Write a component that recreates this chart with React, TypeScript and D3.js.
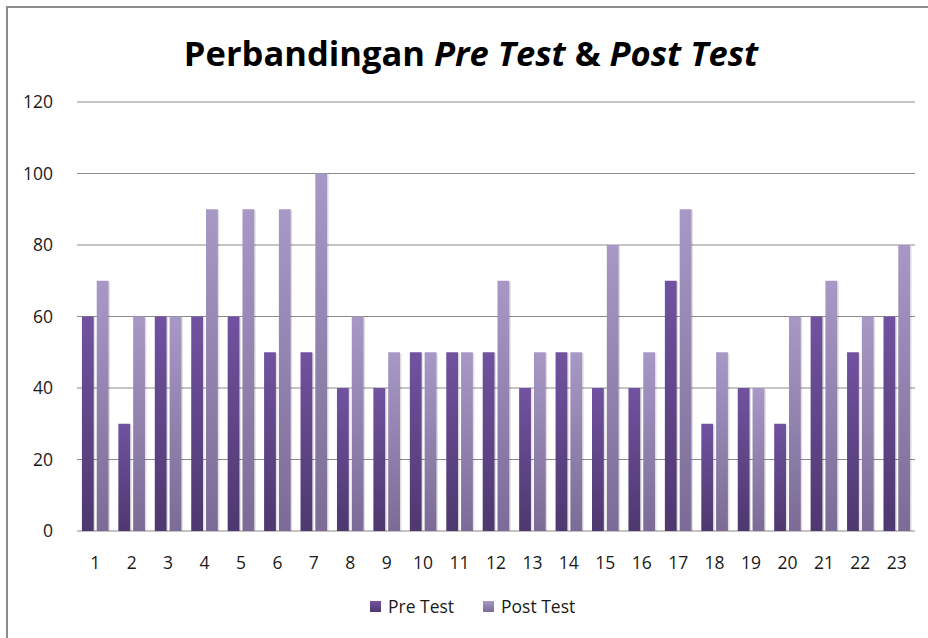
import React, { useEffect, useRef } from 'react';
import * as d3 from 'd3';

const categories = Array.from({ length: 23 }, (_, i) => String(i + 1));
const preTest = [60, 30, 60, 60, 60, 50, 50, 40, 40, 50, 50, 50, 40, 50, 40, 40, 70, 30, 40, 30, 60, 50, 60];
const postTest = [70, 60, 60, 90, 90, 90, 100, 60, 50, 50, 50, 70, 50, 50, 80, 50, 90, 50, 40, 60, 70, 60, 80];
const yTicks = [0, 20, 40, 60, 80, 100, 120];
const seriesNames = ['Pre Test', 'Post Test'];

const App = () => {
  const ref = useRef<SVGSVGElement>(null);

  useEffect(() => {
    const svg = d3.select(ref.current);
    svg.selectAll('*').remove();

    const font = '"Open Sans", Lato, sans-serif';
    const margin = { top: 102, right: 13, bottom: 107, left: 77 };
    const width = 928 - margin.left - margin.right;
    const height = 638 - margin.top - margin.bottom;

    const defs = svg.append('defs');
    const grads = [
      { id: 'gPre', top: '#7152a0', bottom: '#4e386f' },
      { id: 'gPost', top: '#a898c6', bottom: '#7b6b96' },
    ];
    grads.forEach(g => {
      const lg = defs.append('linearGradient').attr('id', g.id)
        .attr('x1', 0).attr('y1', 0).attr('x2', 0).attr('y2', 1);
      lg.append('stop').attr('offset', '0%').attr('stop-color', g.top);
      lg.append('stop').attr('offset', '100%').attr('stop-color', g.bottom);
    });

    // chart frame (only left and top edges fall inside the view)
    svg.append('rect')
      .attr('x', 7).attr('y', 7).attr('width', 1100).attr('height', 800)
      .attr('fill', 'white').attr('stroke', '#8c8c8c').attr('stroke-width', 2);

    // title
    const title = svg.append('text')
      .attr('x', 471).attr('y', 66)
      .attr('text-anchor', 'middle')
      .attr('font-family', font).attr('font-weight', 'bold')
      .attr('font-size', 34.5).attr('fill', '#000');
    title.append('tspan').text('Perbandingan ');
    title.append('tspan').attr('font-style', 'italic').text('Pre Test');
    title.append('tspan').text(' & ');
    title.append('tspan').attr('font-style', 'italic').text('Post Test');

    const g = svg.append('g').attr('transform', `translate(${margin.left},${margin.top})`);

    const x = d3.scaleBand().domain(categories).range([0, width]).paddingInner(0).paddingOuter(0);
    const y = d3.scaleLinear().domain([0, 120]).range([height, 0]);

    // gridlines
    g.selectAll('line.grid').data(yTicks).join('line')
      .attr('class', 'grid')
      .attr('x1', 0).attr('x2', width)
      .attr('y1', d => y(d)).attr('y2', d => y(d))
      .attr('stroke', '#8a8a8a').attr('stroke-width', 1);

    const barW = 11.8;
    const gap = 3;
    const series = [preTest, postTest];
    series.forEach((vals, si) => {
      const grp = g.append('g');
      // soft shadow
      grp.selectAll('rect.sh').data(vals).join('rect')
        .attr('x', (d, i) => x(categories[i])! + x.bandwidth() / 2 - barW - gap / 2 + si * (barW + gap) + 1.5)
        .attr('y', d => y(d) + 1)
        .attr('width', barW)
        .attr('height', d => height - y(d) - 1)
        .attr('fill', '#000').attr('opacity', 0.12);
      grp.selectAll('rect.bar').data(vals).join('rect')
        .attr('x', (d, i) => x(categories[i])! + x.bandwidth() / 2 - barW - gap / 2 + si * (barW + gap))
        .attr('y', d => y(d))
        .attr('width', barW)
        .attr('height', d => height - y(d))
        .attr('fill', `url(#${grads[si].id})`);
    });

    // y labels
    g.selectAll('text.yl').data(yTicks).join('text')
      .attr('x', -24).attr('y', d => y(d) + 6)
      .attr('text-anchor', 'end')
      .attr('font-family', font).attr('font-size', 17.5).attr('fill', '#1a1a1a')
      .text(d => d);

    // x labels
    g.selectAll('text.xl').data(categories).join('text')
      .attr('x', d => x(d)! + x.bandwidth() / 2)
      .attr('y', height + 38)
      .attr('text-anchor', 'middle')
      .attr('font-family', font).attr('font-size', 17.5).attr('fill', '#1a1a1a')
      .text(d => d);

    // legend
    const legendX = [370, 483];
    seriesNames.forEach((name, i) => {
      svg.append('rect')
        .attr('x', legendX[i]).attr('y', 601).attr('width', 11).attr('height', 11)
        .attr('fill', `url(#${grads[i].id})`);
      svg.append('text')
        .attr('x', legendX[i] + 18).attr('y', 613)
        .attr('font-family', font).attr('font-size', 17.5).attr('fill', '#1a1a1a')
        .text(name);
    });
  }, []);

  return (
    <svg ref={ref} width={928} height={638}
      style={{ position: 'absolute', left: 0, top: 0, display: 'block' }} />
  );
};

export default App;
